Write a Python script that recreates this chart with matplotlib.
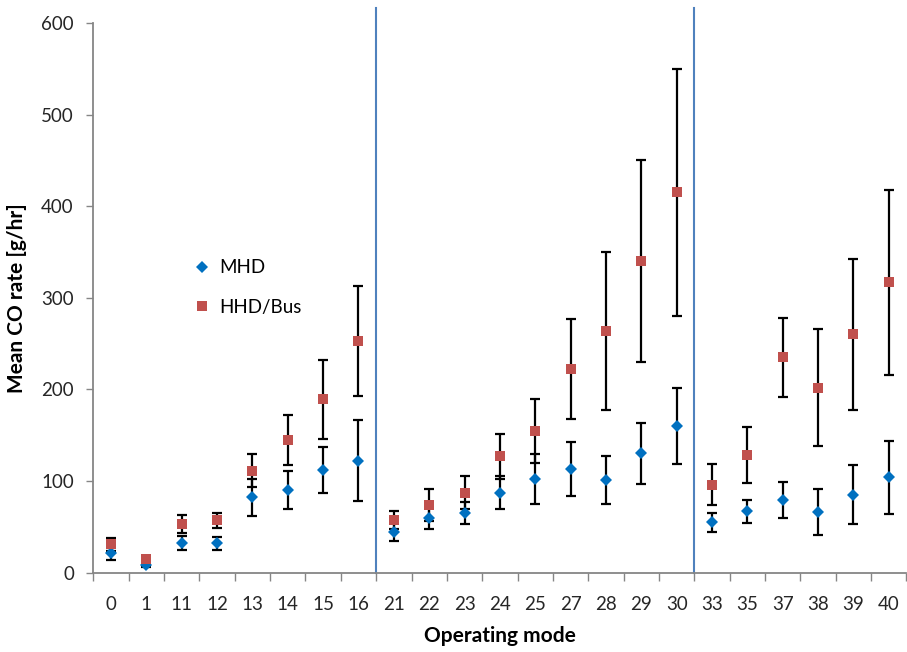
import matplotlib
matplotlib.use('Agg')
import matplotlib.pyplot as plt
import numpy as np

plt.rcParams['font.family'] = ['Lato', 'DejaVu Sans']

# operating modes on the x axis
modes = ['0', '1', '11', '12', '13', '14', '15', '16',
         '21', '22', '23', '24', '25', '27', '28', '29', '30',
         '33', '35', '37', '38', '39', '40']

# mean CO rate [g/hr] and error bar half-widths
mhd = [21, 8, 32, 32, 82, 90, 112, 122,
       44, 59, 65, 87, 102, 113, 101, 130, 160,
       55, 67, 79, 66, 85, 104]
mhd_err = [7, 2, 7.5, 7, 20, 21, 25.5, 44,
           10, 12, 12, 18, 27, 29, 26, 33.5, 41,
           10.5, 12.5, 19.5, 25, 32, 40]
hhd = [31, 15, 53, 57, 111, 145, 189, 253,
       57, 74, 87, 127, 155, 222, 264, 340, 415,
       96, 128, 235, 202, 260, 317]
hhd_err = [7, 3, 10, 8, 18, 27.5, 43, 60,
           10, 17.5, 18, 24.5, 35, 54.5, 86.5, 110.5, 135,
           22.5, 30.5, 43, 64, 82.5, 101]

# group boundaries (after mode 16 and after mode 30)
group_sizes = [8, 9, 6]

fig = plt.figure(figsize=(9.07, 6.52), dpi=100)
ax = fig.add_axes([0.1029, 0.1219, 0.8965, 0.8428])

x = np.arange(len(modes))
blue = '#0070C0'
red = '#C0504D'

ax.errorbar(x, mhd, yerr=mhd_err, fmt='none', ecolor='black', elinewidth=1.6,
            capsize=3.8, capthick=1.6, zorder=2)
ax.errorbar(x, hhd, yerr=hhd_err, fmt='none', ecolor='black', elinewidth=1.6,
            capsize=3.8, capthick=1.6, zorder=2)
ax.plot(x, mhd, 'D', color=blue, markersize=6.5, markeredgewidth=0, label='MHD', zorder=3)
ax.plot(x, hhd, 's', color=red, markersize=7.8, markeredgewidth=0, label='HHD/Bus', zorder=4)

# group separators
for b in np.cumsum(group_sizes)[:-1]:
    ax.axvline(b - 0.5, ymin=0, ymax=1.027, color='#4F81BD', linewidth=1.5,
               clip_on=False, zorder=1)

ax.set_xlim(-0.5, len(modes) - 0.5)
ax.set_ylim(0, 600)
ax.set_yticks(np.arange(0, 601, 100))

# tick marks between categories, labels centered
ax.set_xticks(np.arange(len(modes) + 1) - 0.5)
ax.set_xticklabels([])
ax.set_xticks(x, minor=True)
ax.set_xticklabels(modes, minor=True)
ax.tick_params(axis='x', which='major', direction='out', length=6, width=1, color='#868686')
ax.tick_params(axis='x', which='minor', length=0, pad=17, labelsize=13.5, labelcolor='#262626')
ax.tick_params(axis='y', direction='out', length=5, width=1, color='#868686',
               pad=9, labelsize=13.5, labelcolor='#262626')

for s in ['top', 'right']:
    ax.spines[s].set_visible(False)
for s in ['left', 'bottom']:
    ax.spines[s].set_color('#868686')
    ax.spines[s].set_linewidth(1.3)

ax.set_xlabel('Operating mode', fontsize=15, fontweight='bold')
ax.set_ylabel('Mean CO rate [g/hr]', fontsize=15, fontweight='bold')
ax.xaxis.set_label_coords(0.5, -0.097)
ax.yaxis.set_label_coords(-0.0815, 0.5)

ax.legend(loc='center left', bbox_to_anchor=(0.122, 0.519), frameon=False,
          handlelength=1, handletextpad=0.4, borderpad=0, labelspacing=1.2,
          fontsize=13.5, borderaxespad=0)

fig.savefig('out.png', dpi=100)
